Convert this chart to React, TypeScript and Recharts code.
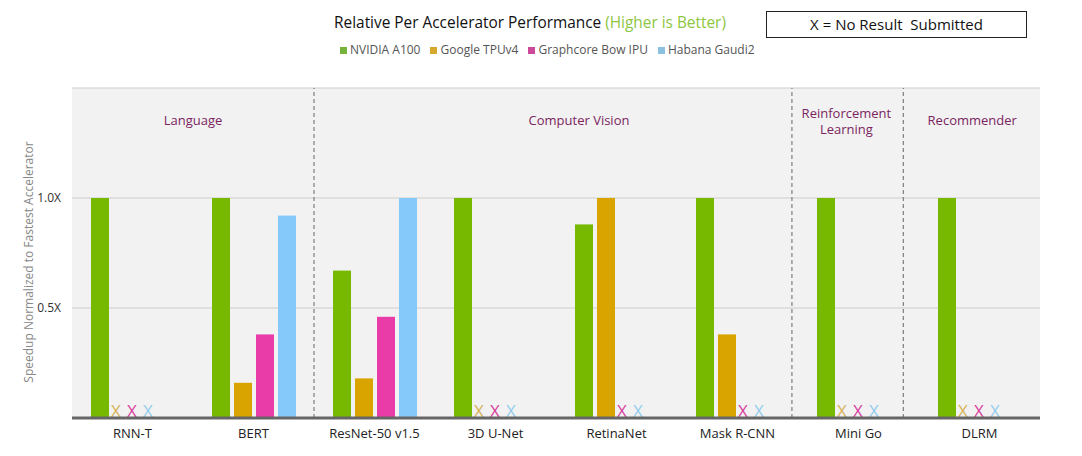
import React from 'react';
import { ComposedChart, Bar, XAxis, YAxis, CartesianGrid, ReferenceLine } from 'recharts';

const categories = ['RNN-T', 'BERT', 'ResNet-50 v1.5', '3D U-Net', 'RetinaNet', 'Mask R-CNN', 'Mini Go', 'DLRM'];
const nvidiaA100: (number | null)[] = [1.0, 1.0, 0.67, 1.0, 0.88, 1.0, 1.0, 1.0];
const googleTPUv4: (number | null)[] = [null, 0.16, 0.18, null, 1.0, 0.38, null, null];
const graphcoreBowIPU: (number | null)[] = [null, 0.38, 0.46, null, null, null, null, null];
const habanaGaudi2: (number | null)[] = [null, 0.92, 1.0, null, null, null, null, null];
const yTicks = [0, 0.5, 1.0, 1.5];
const sectionDividers = [2, 5.95, 6.87];
const sectionLabels = [
  { lines: ['Language'], at: 1.0 },
  { lines: ['Computer Vision'], at: 4.19 },
  { lines: ['Reinforcement', 'Learning'], at: 6.4 },
  { lines: ['Recommender'], at: 7.44 },
];

const series = [
  { key: 'a100', name: 'NVIDIA A100', values: nvidiaA100, color: '#76b900', xColor: '#76b900', legend: '#77b23a' },
  { key: 'tpu', name: 'Google TPUv4', values: googleTPUv4, color: '#daa400', xColor: '#d8b257', legend: '#d6a82e' },
  { key: 'ipu', name: 'Graphcore Bow IPU', values: graphcoreBowIPU, color: '#ea3ca8', xColor: '#d8409f', legend: '#cc4898' },
  { key: 'gaudi', name: 'Habana Gaudi2', values: habanaGaudi2, color: '#84c9f9', xColor: '#92cdee', legend: '#8cc0e0' },
];

const data = categories.map((name, i) => {
  const row: any = { name, pos: i + 0.5, missing: series.map((s) => s.values[i] == null) };
  series.forEach((s) => {
    row[s.key] = s.values[i] ?? 0;
  });
  return row;
});

const BAR_SIZE = 18;
const BAR_GAP = 4;
const FONT = '"Open Sans", "DejaVu Sans", sans-serif';

const makeShape = (k: number, color: string, xColor: string) => (props: any) => {
  const { x, y, width, height, payload } = props;
  const missing: boolean[] = payload?.missing ?? [];
  if (missing[k]) {
    const m = missing.indexOf(true);
    const cx = x - (k - m) * (width + BAR_GAP) + 3 + 16 * (k - m);
    return (
      <text x={cx} y={y + height - 1} textAnchor="middle" fontSize={17} fill={xColor} fontFamily={FONT}>
        X
      </text>
    );
  }
  if (!height) return <g />;
  return <rect x={x} y={y} width={width} height={height} fill={color} />;
};

const SectionLabel = (props: any) => {
  const { viewBox, lines } = props;
  const x = viewBox?.x ?? 0;
  const y = (viewBox?.y ?? 0) + (lines.length > 1 ? 30 : 37);
  return (
    <text x={x} y={y} textAnchor="middle" fontSize={13} fill="#7b2560" fontFamily={FONT}>
      {lines.map((l: string, i: number) => (
        <tspan key={i} x={x} dy={i === 0 ? 0 : 16}>
          {l}
        </tspan>
      ))}
    </text>
  );
};

const YLabel = (props: any) => {
  const { viewBox } = props;
  const cx = 20;
  const cy = (viewBox?.y ?? 0) + (viewBox?.height ?? 0) / 2 + 9;
  return (
    <text
      x={cx}
      y={cy}
      transform={`rotate(-90, ${cx}, ${cy})`}
      textAnchor="middle"
      dominantBaseline="central"
      fontSize={12}
      fill="#888"
      fontFamily={FONT}
    >
      Speedup Normalized to Fastest Accelerator
    </text>
  );
};

export default function App() {
  return (
    <div style={{ position: 'relative', width: 1066, height: 448, fontFamily: FONT }}>
      <div
        style={{
          position: 'absolute',
          left: 222,
          top: 5,
          width: 600,
          textAlign: 'center',
          fontSize: 15.4,
          lineHeight: '20px',
          color: '#111',
        }}
      >
        Relative Per Accelerator Performance <span style={{ color: '#8dc63f' }}>(Higher is Better)</span>
      </div>
      <div
        style={{
          position: 'absolute',
          left: 332,
          top: 34,
          display: 'flex',
          gap: 10,
          fontSize: 12,
          lineHeight: '16px',
          color: '#555',
          whiteSpace: 'nowrap',
        }}
      >
        {series.map((s) => (
          <div key={s.key} style={{ display: 'flex', alignItems: 'center' }}>
            <span style={{ display: 'inline-block', width: 7, height: 7, background: s.legend, marginRight: 3 }} />
            {s.name}
          </div>
        ))}
      </div>
      <div
        style={{
          position: 'absolute',
          left: 758,
          top: 3,
          width: 259,
          height: 25,
          border: '1px solid #222',
          textAlign: 'center',
          lineHeight: '25px',
          fontSize: 15,
          color: '#111',
        }}
      >
        X = No Result&nbsp; Submitted
      </div>
      <ComposedChart
        width={1066}
        height={448}
        data={data}
        margin={{ top: 80, right: 34, left: 0, bottom: 0 }}
        barGap={BAR_GAP}
        barSize={BAR_SIZE}
      >
        <CartesianGrid vertical={false} stroke="#cccccc" fill="#f2f2f2" />
        <YAxis
          domain={[0, 1.5]}
          ticks={yTicks}
          width={64}
          axisLine={false}
          tickLine={false}
          tickMargin={5}
          tick={{ fontSize: 12, fill: '#333', fontFamily: FONT }}
          tickFormatter={(v: number) => (v === 0.5 || v === 1 ? `${v.toFixed(1)}X` : '')}
          label={<YLabel />}
        />
        <XAxis
          dataKey="name"
          height={38}
          tickLine={false}
          axisLine={{ stroke: '#666', strokeWidth: 3 }}
          tickMargin={5}
          tick={{ fontSize: 13, fill: '#222', fontFamily: FONT }}
          interval={0}
        />
        <XAxis xAxisId="sec" dataKey="pos" type="number" domain={[0, 8]} hide allowDataOverflow />
        {sectionDividers.map((d) => (
          <ReferenceLine key={`d${d}`} x={d} xAxisId="sec" stroke="#666" strokeDasharray="4 3" />
        ))}
        {sectionLabels.map((s) => (
          <ReferenceLine
            key={s.lines.join(' ')}
            x={s.at}
            xAxisId="sec"
            stroke="none"
            strokeOpacity={0}
            label={<SectionLabel lines={s.lines} />}
          />
        ))}
        {series.map((s, k) => (
          <Bar
            key={s.key}
            dataKey={s.key}
            name={s.name}
            fill={s.color}
            isAnimationActive={false}
            shape={makeShape(k, s.color, s.xColor)}
          />
        ))}
      </ComposedChart>
    </div>
  );
}
